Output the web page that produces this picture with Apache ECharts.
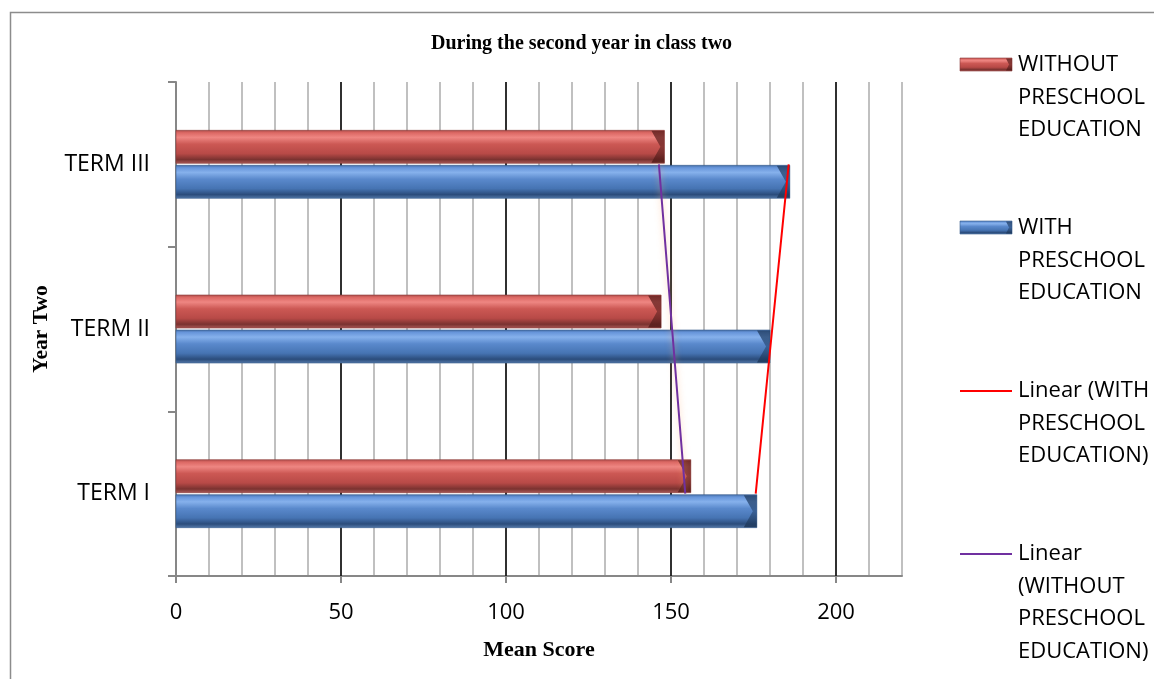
<!DOCTYPE html>
<html>
<head>
<meta charset="utf-8">
<script src="https://cdn.jsdelivr.net/npm/echarts@6/dist/echarts.min.js"></script>
<style>
  html, body { margin: 0; padding: 0; background: #ffffff; }
  #chart { width: 1154px; height: 679px; }
</style>
</head>
<body>
<div id="chart"></div>
<script>
// Mean scores per term, year two, class two
const terms = ['TERM I', 'TERM II', 'TERM III'];
const withoutPreschool = [156, 147, 148];
const withPreschool = [176, 180, 186];
const scoreTicks = [0, 50, 100, 150, 200];

const titleText = 'During the second year in class two';
const nameWithout = 'WITHOUT PRESCHOOL EDUCATION';
const nameWith = 'WITH PRESCHOOL EDUCATION';
const legendLines = [
  ['WITHOUT', 'PRESCHOOL', 'EDUCATION'],
  ['WITH', 'PRESCHOOL', 'EDUCATION'],
  ['Linear (WITH', 'PRESCHOOL', 'EDUCATION)'],
  ['Linear', '(WITHOUT', 'PRESCHOOL', 'EDUCATION)']
];

// Least-squares straight line through a series, evaluated at each category
function linearTrend(values) {
  const n = values.length;
  const xs = values.map((_, i) => i + 1);
  const mx = xs.reduce((a, b) => a + b, 0) / n;
  const my = values.reduce((a, b) => a + b, 0) / n;
  let sxy = 0, sxx = 0;
  for (let i = 0; i < n; i++) {
    sxy += (xs[i] - mx) * (values[i] - my);
    sxx += (xs[i] - mx) * (xs[i] - mx);
  }
  const slope = sxy / sxx;
  return xs.map(x => my + slope * (x - mx));
}

const SANS = '"Open Sans", "Noto Sans", sans-serif';
const SERIF = '"Liberation Serif", "DejaVu Serif", serif';

function vGradient(stops) {
  return new echarts.graphic.LinearGradient(0, 0, 0, 1,
    stops.map(s => ({ offset: s[0], color: s[1] })));
}
const redStops = [
  [0, '#a84a47'], [0.08, '#dc6864'], [0.22, '#ee8682'], [0.42, '#cc5854'],
  [0.7, '#b84a47'], [0.88, '#7a3230'], [1, '#ab5b58']
];
const blueStops = [
  [0, '#416ba4'], [0.08, '#6795da'], [0.22, '#86b1ec'], [0.42, '#5a89cc'],
  [0.7, '#4674b3'], [0.88, '#2b4c7b'], [1, '#567bab']
];
const redEnd = [[0, '#5e1f1d'], [0.5, '#7a302e'], [1, '#4e1917']];
const blueEnd = [[0, '#223e63'], [0.5, '#33588a'], [1, '#1b3454']];

const BAR_H = 33;
const BAR_GAP = 2;

// Bevelled horizontal bar: body rect plus a shaded chevron end cap
function bevelBar(stops, endStops, stroke, slot) {
  return function (params, api) {
    const val = api.value(0);
    const idx = api.value(1);
    const p0 = api.coord([0, idx]);
    const p1 = api.coord([val, idx]);
    const top = slot === 0 ? p0[1] - BAR_GAP / 2 - BAR_H : p0[1] + BAR_GAP / 2;
    const bottom = top + BAR_H;
    const mid = top + BAR_H / 2;
    const xe = p1[0];
    return {
      type: 'group',
      children: [
        {
          type: 'rect',
          shape: { x: p0[0], y: top, width: xe - p0[0], height: BAR_H },
          style: { fill: vGradient(stops), stroke: stroke, lineWidth: 0.6 }
        },
        {
          type: 'polygon',
          shape: { points: [[xe - 13, top + 0.5], [xe, top + 0.5], [xe, bottom - 0.5], [xe - 13, bottom - 0.5], [xe - 4, mid]] },
          style: { fill: vGradient(endStops), opacity: 0.8 }
        }
      ]
    };
  };
}

// Legend drawn as graphic elements: icon beside the first text line
const legendTop = [65, 228, 391, 554];
const LINE_H = 32.5;
const legendGraphics = [];
legendLines.forEach((lines, i) => {
  const cy = legendTop[i];
  if (i < 2) {
    legendGraphics.push({
      type: 'rect',
      shape: { x: 960, y: cy - 7, width: 52, height: 13 },
      style: { fill: vGradient(i === 0 ? redStops : blueStops), stroke: i === 0 ? '#8a3b39' : '#365b8c', lineWidth: 0.6 }
    });
    legendGraphics.push({
      type: 'polygon',
      shape: { points: [[1006, cy - 6.5], [1012, cy - 6.5], [1012, cy + 5.5], [1006, cy + 5.5], [1009, cy - 0.5]] },
      style: { fill: vGradient(i === 0 ? redEnd : blueEnd), opacity: 0.8 }
    });
  } else {
    legendGraphics.push({
      type: 'line',
      shape: { x1: 960, y1: cy, x2: 1012, y2: cy },
      style: { stroke: i === 2 ? '#ff0000' : '#7030a0', lineWidth: 2 }
    });
  }
  legendGraphics.push({
    type: 'text',
    x: 1018,
    y: cy - LINE_H / 2,
    style: {
      text: lines.join('\n'),
      font: '22px ' + SANS,
      fill: '#000000',
      lineHeight: LINE_H,
      verticalAlign: 'top',
      align: 'left'
    }
  });
});

const chart = echarts.init(document.getElementById('chart'), null, { renderer: 'canvas' });

chart.setOption({
  animation: false,
  backgroundColor: '#ffffff',
  title: {
    text: titleText,
    left: 431,
    top: 34,
    padding: 0,
    textStyle: { fontFamily: SERIF, fontWeight: 'bold', fontSize: 20, color: '#000000' }
  },
  grid: { left: 176, right: 252, top: 82, bottom: 103, containLabel: false },
  xAxis: [
    {
      // minor gridlines every 10 points, axis line and value labels
      type: 'value',
      position: 'bottom',
      min: 0,
      max: 220,
      interval: 10,
      name: 'Mean Score',
      nameLocation: 'middle',
      nameGap: 63,
      nameTextStyle: { fontFamily: SERIF, fontWeight: 'bold', fontSize: 22, color: '#000000' },
      axisLine: { show: true, lineStyle: { color: '#878787', width: 2 } },
      axisTick: { show: false },
      axisLabel: {
        customValues: scoreTicks,
        margin: 26,
        fontFamily: SANS,
        fontSize: 22,
        color: '#000000'
      },
      splitLine: { show: true, lineStyle: { color: '#c0c0c0', width: 2 } }
    },
    {
      // major gridlines every 50 points
      type: 'value',
      position: 'bottom',
      min: 0,
      max: 220,
      interval: 50,
      z: 3,
      axisLine: { show: false },
      axisTick: { show: false },
      axisLabel: { show: false },
      splitLine: { show: true, showMinLine: false, showMaxLine: false, lineStyle: { color: '#000000', width: 1.5 } }
    },
    {
      // tick marks below the axis at the labelled values
      type: 'value',
      position: 'bottom',
      min: 0,
      max: 220,
      axisLine: { show: false },
      axisTick: { show: true, length: 7, customValues: scoreTicks, lineStyle: { color: '#878787', width: 2 } },
      axisLabel: { show: false },
      splitLine: { show: false }
    }
  ],
  yAxis: {
    type: 'category',
    data: terms,
    name: 'Year Two',
    nameLocation: 'middle',
    nameGap: 124,
    nameTextStyle: { fontFamily: SERIF, fontWeight: 'bold', fontSize: 21.5, color: '#000000' },
    axisLine: { show: true, lineStyle: { color: '#878787', width: 2 } },
    axisTick: { show: true, length: 8, lineStyle: { color: '#878787', width: 2 } },
    axisLabel: { margin: 26, fontFamily: SANS, fontSize: 23, color: '#000000', lineHeight: 36, verticalAlign: 'middle', padding: [6, 0, 0, 0] },
    splitLine: { show: false }
  },
  series: [
    {
      name: nameWithout,
      type: 'custom',
      xAxisIndex: 0,
      data: withoutPreschool.map((v, i) => [v, i]),
      encode: { x: 0, y: 1 },
      z: 4,
      renderItem: bevelBar(redStops, redEnd, '#8a3b39', 0)
    },
    {
      name: nameWith,
      type: 'custom',
      xAxisIndex: 0,
      data: withPreschool.map((v, i) => [v, i]),
      encode: { x: 0, y: 1 },
      z: 4,
      renderItem: bevelBar(blueStops, blueEnd, '#365b8c', 1)
    },
    {
      name: 'Linear (' + nameWith + ')',
      type: 'line',
      xAxisIndex: 0,
      data: linearTrend(withPreschool),
      symbol: 'none',
      z: 6,
      lineStyle: { color: '#ff0000', width: 2 }
    },
    {
      name: 'Linear (' + nameWithout + ')',
      type: 'line',
      xAxisIndex: 0,
      data: linearTrend(withoutPreschool),
      symbol: 'none',
      z: 6,
      lineStyle: { color: '#7030a0', width: 2, shadowColor: 'rgba(255,170,110,0.55)', shadowBlur: 6 }
    }
  ],
  graphic: [
    {
      type: 'rect',
      silent: true,
      shape: { x: 10.5, y: 12.5, width: 1300, height: 800 },
      style: { fill: 'none', stroke: '#8c8c8c', lineWidth: 1.5 }
    }
  ].concat(legendGraphics)
});
</script>
</body>
</html>
